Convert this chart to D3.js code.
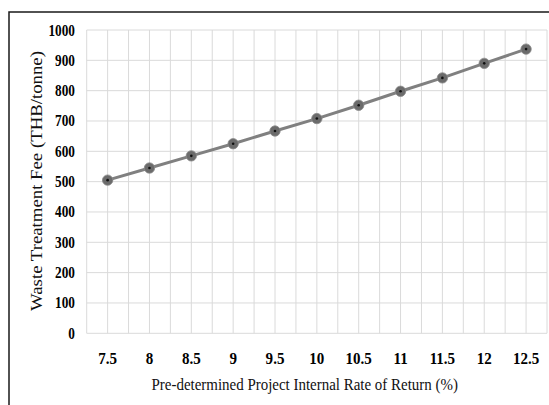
<!DOCTYPE html>
<html>
<head>
<meta charset="utf-8">
<script src="https://cdn.jsdelivr.net/npm/d3@7"></script>
<style>
  html, body { margin: 0; padding: 0; background: #ffffff; }
  svg { display: block; }
</style>
</head>
<body>
<svg id="chart" width="549" height="405"></svg>
<script>
// Waste treatment fee required at each pre-determined project IRR
const irrPercent = [7.5, 8, 8.5, 9, 9.5, 10, 10.5, 11, 11.5, 12, 12.5];
const feeTHB = [505, 545, 585, 625, 667, 708, 752, 798, 842, 890, 937];
const yTicks = [0, 100, 200, 300, 400, 500, 600, 700, 800, 900, 1000];
const xTickLabels = ["7.5", "8", "8.5", "9", "9.5", "10", "10.5", "11", "11.5", "12", "12.5"];

const W = 549, H = 405;
const plot = { left: 86.7, right: 547, top: 30, bottom: 333.3 };

const svg = d3.select("#chart");

// outer frame
svg.append("rect")
  .attr("x", 9).attr("y", 12)
  .attr("width", W + 20).attr("height", H + 20)
  .attr("fill", "#ffffff")
  .attr("stroke", "#1a1a1a").attr("stroke-width", 1.5);

const x = d3.scaleLinear().domain([7.25, 12.75]).range([plot.left, plot.right]);
const y = d3.scaleLinear().domain([0, 1000]).range([plot.bottom, plot.top]);

// gridlines: vertical every quarter point, horizontal every 100
const vGrid = d3.range(0, 23).map(i => 7.25 + i * 0.25);
const grid = svg.append("g").attr("stroke", "#dadada").attr("stroke-width", 1);
grid.selectAll("line.v").data(vGrid).join("line")
  .attr("class", "v")
  .attr("x1", d => x(d)).attr("x2", d => x(d))
  .attr("y1", plot.top).attr("y2", plot.bottom);
grid.selectAll("line.h").data(yTicks).join("line")
  .attr("class", "h")
  .attr("x1", plot.left).attr("x2", plot.right)
  .attr("y1", d => y(d)).attr("y2", d => y(d));

// y axis tick labels
const yAxis = svg.append("g")
  .attr("font-family", "'Liberation Serif', 'Times New Roman', serif")
  .attr("font-weight", "bold").attr("font-size", 17).attr("fill", "#000");
yAxis.selectAll("text").data(yTicks).join("text")
  .attr("transform", d => `translate(75,${y(d) + 5.5}) scale(0.78,1)`)
  .attr("text-anchor", "end")
  .text(d => d);

// x axis tick labels
const xAxis = svg.append("g")
  .attr("font-family", "'Liberation Serif', 'Times New Roman', serif")
  .attr("font-weight", "bold").attr("font-size", 17.5).attr("fill", "#000");
xAxis.selectAll("text").data(irrPercent).join("text")
  .attr("transform", d => `translate(${x(d)},364) scale(0.86,1)`)
  .attr("text-anchor", "middle")
  .text((d, i) => xTickLabels[i]);

// axis titles
svg.append("text")
  .attr("transform", "translate(304.7,390) scale(0.88,1)")
  .attr("text-anchor", "middle")
  .attr("font-family", "'Liberation Serif', 'Times New Roman', serif")
  .attr("font-size", 17).attr("fill", "#111")
  .text("Pre-determined Project Internal Rate of Return (%)");

svg.append("text")
  .attr("transform", "translate(41.5,181) scale(0.9,1) rotate(-90)")
  .attr("text-anchor", "middle")
  .attr("font-family", "'Liberation Serif', 'Times New Roman', serif")
  .attr("font-size", 18.8).attr("fill", "#111")
  .text("Waste Treatment Fee (THB/tonne)");

// series line
const pts = irrPercent.map((v, i) => [v, feeTHB[i]]);
svg.append("path")
  .datum(pts)
  .attr("fill", "none")
  .attr("stroke", "#808080").attr("stroke-width", 3)
  .attr("stroke-linejoin", "round")
  .attr("d", d3.line().x(d => x(d[0])).y(d => y(d[1])));

// markers
const mk = svg.append("g");
mk.selectAll("circle.outer").data(pts).join("circle")
  .attr("class", "outer")
  .attr("cx", d => x(d[0])).attr("cy", d => y(d[1]))
  .attr("r", 5.2).attr("fill", "#6b6b6b")
  .attr("stroke", "#8a8a8a").attr("stroke-width", 0.8);
mk.selectAll("circle.inner").data(pts).join("circle")
  .attr("class", "inner")
  .attr("cx", d => x(d[0])).attr("cy", d => y(d[1]))
  .attr("r", 1.3).attr("fill", "#111");
</script>
</body>
</html>
